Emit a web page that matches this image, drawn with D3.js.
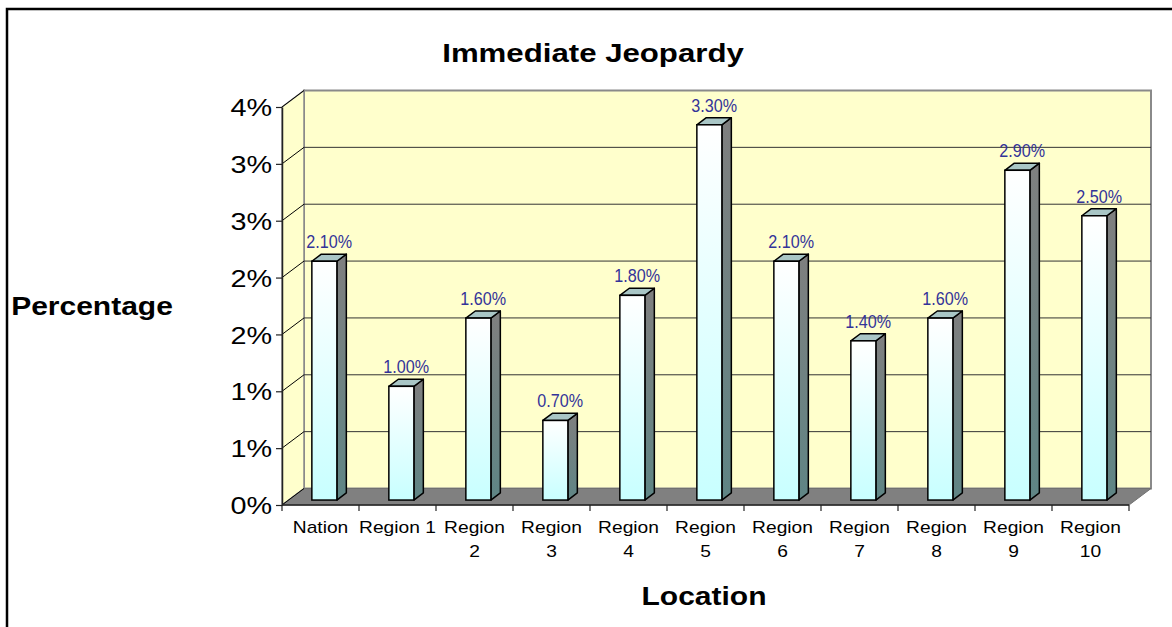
<!DOCTYPE html>
<html>
<head>
<meta charset="utf-8">
<script src="https://cdn.jsdelivr.net/npm/d3@7"></script>
<style>
    body { margin: 0; background: #fff; }
    text { font-family: "Liberation Sans", Arial, sans-serif; }
</style>
</head>
<body>
<div id="wrapper"></div>
<script>
const categories = ["Nation", "Region 1", "Region 2", "Region 3", "Region 4", "Region 5",
    "Region 6", "Region 7", "Region 8", "Region 9", "Region 10"];
const values = [2.1, 1.0, 1.6, 0.7, 1.8, 3.3, 2.1, 1.4, 1.6, 2.9, 2.5];
const valueLabels = ["2.10%", "1.00%", "1.60%", "0.70%", "1.80%", "3.30%", "2.10%", "1.40%", "1.60%", "2.90%", "2.50%"];
const categoryLines = [["Nation"], ["Region 1"], ["Region", "2"], ["Region", "3"], ["Region", "4"], ["Region", "5"],
    ["Region", "6"], ["Region", "7"], ["Region", "8"], ["Region", "9"], ["Region", "10"]];
const yTickValues = [0, 0.5, 1, 1.5, 2, 2.5, 3, 3.5];
const yTickLabels = ["0%", "1%", "1%", "2%", "2%", "3%", "3%", "4%"];

function buildChart() {
    const width = 1172, height = 627;
    const SX = 1.2;          // the picture's text is a bit stretched sideways
    const DX = 22, DY = -16.5; // depth of the 3d box
    const F0 = 0.3, F1 = 0.73; // bar front/back depth fractions

    const svg = d3.select("#wrapper").append("svg")
        .attr("width", width)
        .attr("height", height);

    // outer border
    svg.append("rect")
        .attr("x", 7).attr("y", 9)
        .attr("width", 1200).attr("height", 700)
        .attr("fill", "#fff")
        .attr("stroke", "#000")
        .attr("stroke-width", 2.5);

    const xScaler = d3.scaleBand()
        .domain(categories)
        .range([282, 1129]);

    const yScaler = d3.scaleLinear()
        .domain([0, 3.5])
        .range([505, 107]);

    const x0 = xScaler.range()[0], x1 = xScaler.range()[1];
    const yTop = yScaler(3.5), yBot = yScaler(0);

    // walls and floor
    const pts = a => a.map(p => p.join(",")).join(" ");
    svg.append("polygon")
        .attr("points", pts([[x0 + DX, yTop + DY], [x1 + DX, yTop + DY], [x1 + DX, yBot + DY], [x0 + DX, yBot + DY]]))
        .attr("fill", "#ffffcc").attr("stroke", "#8a8a8a").attr("stroke-width", 2);
    svg.append("polygon")
        .attr("points", pts([[x0, yBot], [x0, yTop], [x0 + DX, yTop + DY], [x0 + DX, yBot + DY]]))
        .attr("fill", "#ffffcc").attr("stroke", "#8a8a8a").attr("stroke-width", 1.5);
    svg.append("polygon")
        .attr("points", pts([[x0, yBot], [x1, yBot], [x1 + DX, yBot + DY], [x0 + DX, yBot + DY]]))
        .attr("fill", "#808080").attr("stroke", "#707070").attr("stroke-width", 1);

    // gridlines
    const grid = svg.append("g");
    yTickValues.filter(v => v > 0 && v < 3.5).forEach(v => {
        grid.append("line")
            .attr("x1", x0 + DX).attr("x2", x1 + DX)
            .attr("y1", yScaler(v) + DY).attr("y2", yScaler(v) + DY)
            .attr("stroke", "#333").attr("stroke-width", 1);
    });
    yTickValues.forEach(v => {
        grid.append("line")
            .attr("x1", x0).attr("x2", x0 + DX)
            .attr("y1", yScaler(v)).attr("y2", yScaler(v) + DY)
            .attr("stroke", "#000").attr("stroke-width", 1);
    });

    // bars
    const defs = svg.append("defs");
    const grad = defs.append("linearGradient")
        .attr("id", "frontGrad")
        .attr("x1", 0).attr("y1", 0).attr("x2", 0).attr("y2", 1);
    grad.append("stop").attr("offset", "0%").attr("stop-color", "#ffffff");
    grad.append("stop").attr("offset", "100%").attr("stop-color", "#c8ffff");
    const sideGrad = defs.append("linearGradient")
        .attr("id", "sideGrad")
        .attr("x1", 0).attr("y1", 0).attr("x2", 0).attr("y2", 1);
    sideGrad.append("stop").attr("offset", "0%").attr("stop-color", "#7f7f7f");
    sideGrad.append("stop").attr("offset", "100%").attr("stop-color", "#5f8585");

    const barW = xScaler.bandwidth() * 0.325;
    const bdx = DX * (F1 - F0), bdy = DY * (F1 - F0);
    const bars = svg.append("g").selectAll("g")
        .data(values)
        .join("g");

    bars.each(function (d, i) {
        const g = d3.select(this);
        const cx = xScaler(categories[i]) + xScaler.bandwidth() / 2;
        const left = cx - barW / 2 + DX * F0 - bdx / 2 + 2;
        const right = left + barW;
        const bottom = yScaler(0) + DY * F0;
        const top = yScaler(d) + DY * F0;
        g.append("polygon")
            .attr("points", pts([[right, bottom], [right, top], [right + bdx, top + bdy], [right + bdx, bottom + bdy]]))
            .attr("fill", "url(#sideGrad)").attr("stroke", "#000").attr("stroke-width", 1.5)
            .attr("stroke-linejoin", "round");
        g.append("polygon")
            .attr("points", pts([[left, top], [right, top], [right + bdx, top + bdy], [left + bdx, top + bdy]]))
            .attr("fill", "#a9c6c6").attr("stroke", "#000").attr("stroke-width", 1.5)
            .attr("stroke-linejoin", "round");
        g.append("rect")
            .attr("x", left).attr("y", top)
            .attr("width", barW).attr("height", bottom - top)
            .attr("fill", "url(#frontGrad)").attr("stroke", "#000").attr("stroke-width", 1.5);
        g.append("text")
            .attr("transform", `translate(${left + (barW + bdx) / 2},${top + bdy - 6}) scale(0.85,1)`)
            .attr("text-anchor", "middle")
            .attr("font-size", 19)
            .attr("fill", "#333399")
            .text(valueLabels[i]);
    });

    // y axis
    const yAxis = d3.axisLeft(yScaler)
        .tickValues(yTickValues)
        .tickSize(6)
        .tickSizeOuter(0)
        .tickFormat((d, i) => yTickLabels[i]);
    const yAxisG = svg.append("g")
        .attr("transform", `translate(${x0},0)`)
        .call(yAxis);
    yAxisG.select(".domain").attr("stroke", "#222").attr("stroke-width", 1.5);
    yAxisG.selectAll(".tick line").attr("stroke", "#222").attr("stroke-width", 1.2);
    yAxisG.selectAll(".tick text")
        .attr("font-family", "Liberation Sans, Arial, sans-serif")
        .attr("font-size", 24)
        .attr("fill", "#000")
        .attr("x", -10 / SX)
        .attr("dy", "0.36em")
        .attr("transform", `scale(${SX},1)`);

    // x axis: floor front edge, ticks on band edges, wrapped labels
    const xAxisG = svg.append("g");
    xAxisG.append("line")
        .attr("x1", x0).attr("x2", x1)
        .attr("y1", yBot).attr("y2", yBot)
        .attr("stroke", "#222").attr("stroke-width", 1.5);
    categories.concat([null]).forEach((c, i) => {
        const xt = c === null ? x1 : xScaler(c);
        xAxisG.append("line")
            .attr("x1", xt).attr("x2", xt)
            .attr("y1", yBot).attr("y2", yBot + 6)
            .attr("stroke", "#222").attr("stroke-width", 1.2);
    });
    categories.forEach((c, i) => {
        const cx = xScaler(c) + xScaler.bandwidth() / 2;
        categoryLines[i].forEach((line, j) => {
            xAxisG.append("text")
                .attr("transform", `translate(${cx},${533 + j * 24}) scale(${SX},1)`)
                .attr("text-anchor", "middle")
                .attr("font-size", 16)
                .attr("fill", "#000")
                .text(line);
        });
    });

    // titles
    const addTitle = (x, y, size, str) => svg.append("text")
        .attr("transform", `translate(${x},${y}) scale(${SX},1)`)
        .attr("text-anchor", "middle")
        .attr("font-size", size)
        .attr("font-weight", "bold")
        .attr("fill", "#000")
        .text(str);
    addTitle(593, 62, 26, "Immediate Jeopardy");
    addTitle(92, 315, 25, "Percentage");
    addTitle(704, 605, 25, "Location");
}

buildChart();
</script>
</body>
</html>
